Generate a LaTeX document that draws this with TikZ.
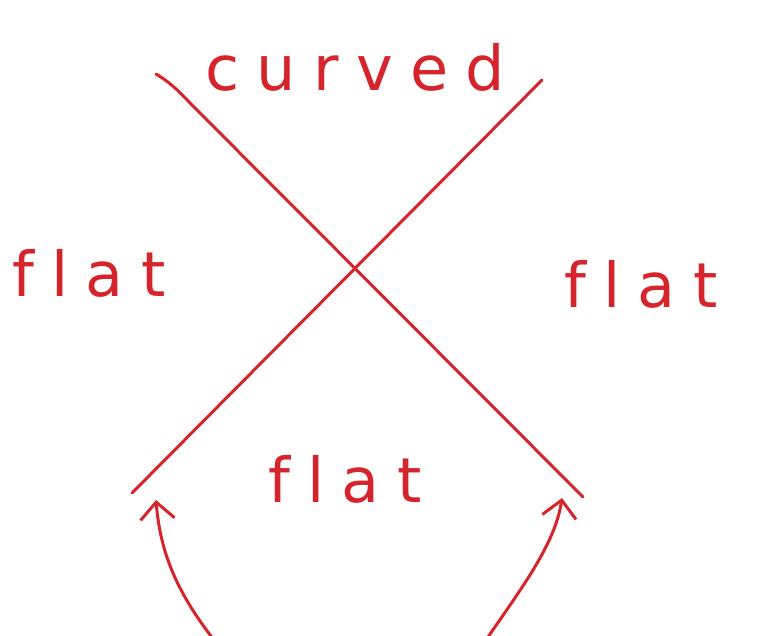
\documentclass[tikz,border=0pt]{standalone}
\usepackage{fontspec}
\newfontfamily\hand[LetterSpace=28,Ligatures=NoCommon]{DejaVu Sans}
\usetikzlibrary{arrows.meta}
\definecolor{pen}{RGB}{214,36,44}
\tikzset{
  penline/.style={draw=pen, line width=3pt, line cap=round},
  arr/.style={penline, -{Straight Barb[length=17pt,width=34pt,line width=3pt]}},
  lbl/.style={text=pen, font=\hand\fontsize{62}{64}\selectfont, inner sep=0pt, anchor=base west}
}
\begin{document}
\begin{tikzpicture}[x=1pt,y=-1pt]
\useasboundingbox (0,0) rectangle (763,635);
% labels
\node[lbl] (curved) at (205,90) {curved};
\node[lbl] (flatL) at (12,296) {flat};
\node[lbl] (flatR) at (564,307) {flat};
\node[lbl] (flatB) at (268,502) {flat};
% X lines
\coordinate (a1) at (156,74);
\coordinate (a2) at (583,497);
\coordinate (b1) at (542,80);
\coordinate (b2) at (132,493);
\draw[penline] (a1) .. controls (168,81) and (178,90) .. (190,103) -- (a2);
\draw[penline] (b1) -- (b2);
% arrows
\coordinate (s1) at (214,640);
\coordinate (t1) at (156,500);
\coordinate (s2) at (486,640);
\coordinate (t2) at (562,498);
\draw[arr] (s1) .. controls (175,590) and (160,550) .. (t1);
\draw[arr] (s2) .. controls (520,590) and (555,545) .. (t2);
\end{tikzpicture}
\end{document}
